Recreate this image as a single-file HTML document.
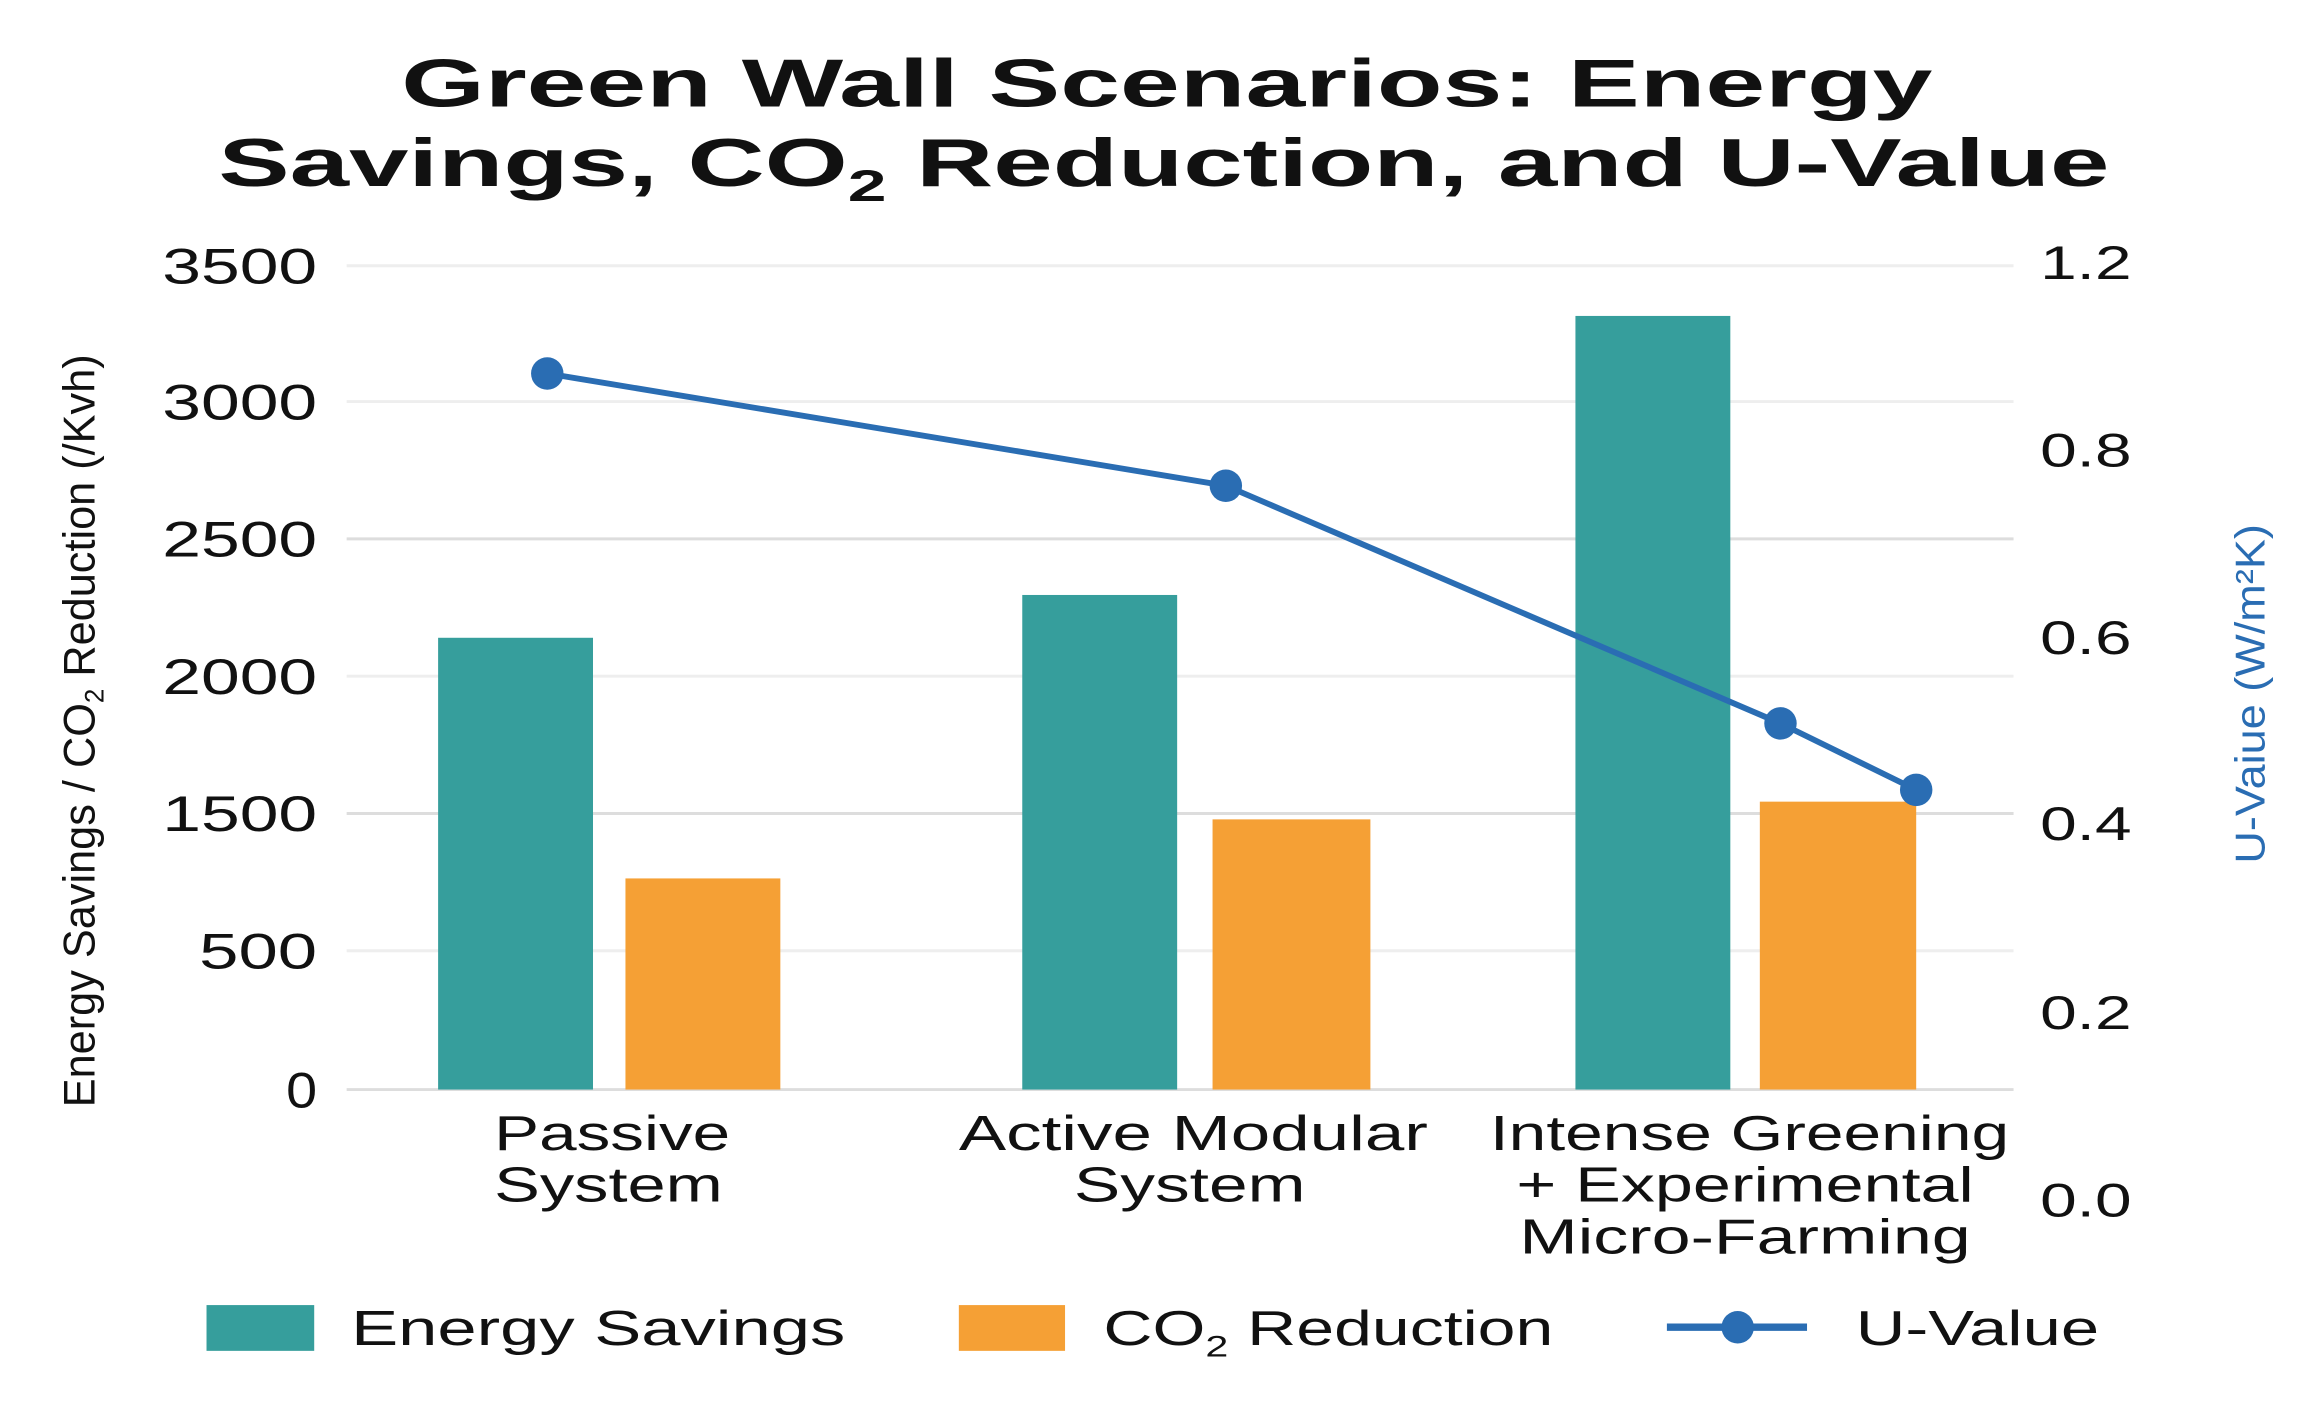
<!DOCTYPE html>
<html><head><meta charset="utf-8"><style>
html,body{margin:0;padding:0;background:#fff;}
svg{display:block;}
text{font-family:"Liberation Sans","DejaVu Sans",sans-serif;fill:#111;}
</style></head><body>
<svg width="2313" height="1404" viewBox="0 0 1568 951" preserveAspectRatio="none" xmlns="http://www.w3.org/2000/svg">
<rect width="1568" height="951" fill="#fff"/>
<text x="272" y="72" font-size="46" font-weight="bold" textLength="1038" lengthAdjust="spacingAndGlyphs">Green Wall Scenarios: Energy</text>
<text x="148" y="126" font-size="46" font-weight="bold" textLength="1282" lengthAdjust="spacingAndGlyphs">Savings, CO<tspan font-size="30" dy="10">2</tspan><tspan dy="-10"> Reduction, and U-Value</tspan></text>
<g stroke="#ddd" stroke-width="2">
<line x1="235" y1="180" x2="1365" y2="180" stroke="#eee"/>
<line x1="235" y1="272" x2="1365" y2="272" stroke="#eee"/>
<line x1="235" y1="365" x2="1365" y2="365"/>
<line x1="235" y1="458" x2="1365" y2="458" stroke="#eee"/>
<line x1="235" y1="551" x2="1365" y2="551"/>
<line x1="235" y1="644" x2="1365" y2="644" stroke="#eee"/>
<line x1="235" y1="738" x2="1365" y2="738"/>
</g>
<g font-size="34">
<text x="110" y="192" textLength="105" lengthAdjust="spacingAndGlyphs">3500</text>
<text x="110" y="284" textLength="105" lengthAdjust="spacingAndGlyphs">3000</text>
<text x="110" y="377" textLength="105" lengthAdjust="spacingAndGlyphs">2500</text>
<text x="110" y="470" textLength="105" lengthAdjust="spacingAndGlyphs">2000</text>
<text x="110" y="563" textLength="105" lengthAdjust="spacingAndGlyphs">1500</text>
<text x="135" y="656" textLength="80" lengthAdjust="spacingAndGlyphs">500</text>
<text x="194" y="750" textLength="21" lengthAdjust="spacingAndGlyphs">0</text>
</g>
<g font-size="32">
<text x="1383" y="189" textLength="62" lengthAdjust="spacingAndGlyphs">1.2</text><text x="1383" y="316" textLength="62" lengthAdjust="spacingAndGlyphs">0.8</text><text x="1383" y="443" textLength="62" lengthAdjust="spacingAndGlyphs">0.6</text>
<text x="1383" y="569" textLength="62" lengthAdjust="spacingAndGlyphs">0.4</text><text x="1383" y="697" textLength="62" lengthAdjust="spacingAndGlyphs">0.2</text><text x="1383" y="824" textLength="62" lengthAdjust="spacingAndGlyphs">0.0</text>
</g>
<text transform="translate(64,750) rotate(-90)" font-size="30" textLength="510" lengthAdjust="spacingAndGlyphs">Energy Savings / CO<tspan font-size="18" dy="6">2</tspan><tspan dy="-6"> Reduction (/Kvh)</tspan></text>
<text transform="translate(1535,585) rotate(-90)" font-size="28" textLength="230" lengthAdjust="spacingAndGlyphs" style="fill:#2a6db3">U-Vaiue (W/m²K)</text>
<g fill="#369e9c">
<rect x="297" y="432" width="105" height="306"/>
<rect x="693" y="403" width="105" height="335"/>
<rect x="1068" y="214" width="105" height="524"/>
</g>
<g fill="#f5a035">
<rect x="424" y="595" width="105" height="143"/>
<rect x="822" y="555" width="107" height="183"/>
<rect x="1193" y="543" width="106" height="195"/>
</g>
<polyline points="371,253 831,329 1207,490 1299,535" fill="none" stroke="#2a6db3" stroke-width="4"/>
<g fill="#2a6db3">
<circle cx="371" cy="253" r="11"/><circle cx="831" cy="329" r="11"/>
<circle cx="1207" cy="490" r="11"/><circle cx="1299" cy="535" r="11"/>
</g>
<g font-size="33">
<text x="335" y="779" textLength="160" lengthAdjust="spacingAndGlyphs">Passive</text><text x="335" y="814" textLength="155" lengthAdjust="spacingAndGlyphs">System</text>
<text x="650" y="779" textLength="318" lengthAdjust="spacingAndGlyphs">Active Modular</text><text x="728" y="814" textLength="157" lengthAdjust="spacingAndGlyphs">System</text>
<text x="1010" y="779" textLength="352" lengthAdjust="spacingAndGlyphs">Intense Greening</text><text x="1028" y="814" textLength="310" lengthAdjust="spacingAndGlyphs">+ Experimental</text><text x="1030" y="849" textLength="306" lengthAdjust="spacingAndGlyphs">Micro-Farming</text>
</g>
<rect x="140" y="884" width="73" height="31" fill="#369e9c"/>
<text x="238" y="911" font-size="33" textLength="335" lengthAdjust="spacingAndGlyphs">Energy Savings</text>
<rect x="650" y="884" width="72" height="31" fill="#f5a035"/>
<text x="748" y="911" font-size="33" textLength="305" lengthAdjust="spacingAndGlyphs">CO<tspan font-size="20" dy="8">2</tspan><tspan dy="-8"> Reduction</tspan></text>
<line x1="1130" y1="899" x2="1225" y2="899" stroke="#2a6db3" stroke-width="5"/>
<circle cx="1178" cy="899" r="11" fill="#2a6db3"/>
<text x="1258" y="911" font-size="33" textLength="165" lengthAdjust="spacingAndGlyphs">U-Value</text>
</svg>
</body></html>
